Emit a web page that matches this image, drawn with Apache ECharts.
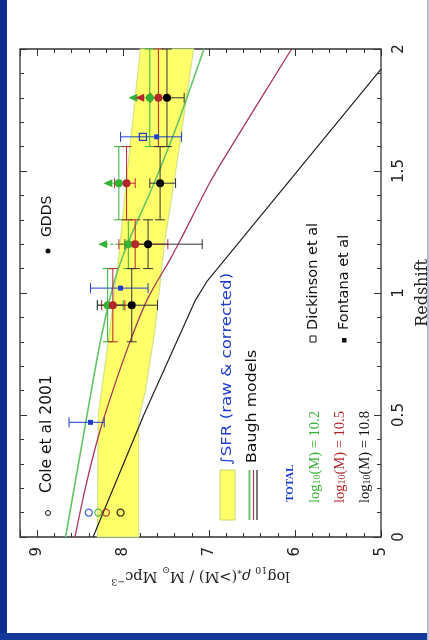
<!DOCTYPE html>
<html><head><meta charset="utf-8">
<script src="https://cdn.jsdelivr.net/npm/echarts@6/dist/echarts.min.js"></script>
<style>html,body{margin:0;padding:0;background:#fff;}#c{width:429px;height:640px;}</style>
</head><body><div id="c"></div>
<script>
// ---------- data ----------
const densityTicks = [5, 6, 7, 8, 9];
const redshiftTicks = [0, 0.5, 1, 1.5, 2];

// Baugh models (log10 rho, redshift)
const baughZ102 = [0, 0.3, 0.56, 0.81, 1.05, 1.2, 1.45, 1.7, 2.0];
const baughRho102 = [8.67, 8.52, 8.39, 8.26, 8.10, 7.95, 7.64, 7.36, 7.06];
const baughZ105 = [0, 0.2, 0.41, 0.6, 0.81, 0.98, 1.14, 1.22, 1.46, 1.59, 2.0];
const baughRho105 = [8.56, 8.44, 8.29, 8.12, 7.91, 7.71, 7.45, 7.33, 6.98, 6.76, 6.04];
const baughZ108 = [0, 0.5, 0.97, 1.05, 1.918];
const baughRho108 = [8.35, 7.76, 7.16, 7.02, 5.0];

// integrated SFR band
const sfrUpperZ = [0, 0.5, 0.81, 1.15, 1.5, 2.0];
const sfrUpper = [8.30, 8.29, 8.17, 8.05, 7.95, 7.80];
const sfrLowerZ = [0, 0.48, 0.6, 0.85, 1.2, 1.59, 2.0];
const sfrLower = [7.82, 7.82, 7.74, 7.63, 7.52, 7.35, 7.18];

// GDDS
const gddsZ = [0.95, 1.2, 1.45, 1.8];
const gddsZLow = [0.8, 1.1, 1.3, 1.6];
const gddsZHigh = [1.1, 1.3, 1.6, 2.0];
const gdds102 = [8.18, 7.94, 8.05, 7.69];
const gdds102Hi = [8.30, null, null, null];
const gdds102Lo = [8.00, null, null, null];
const gdds102Arrow = [null, 8.29, 8.23, 7.94];
const gdds105 = [8.12, 7.86, 7.96, 7.59];
const gdds105Hi = [8.25, 8.05, 8.10, null];
const gdds105Lo = [7.98, 7.48, 7.86, null];
const gdds105Arrow = [null, null, null, 7.86];
const gdds108 = [7.90, 7.71, 7.57, 7.49];
const gdds108Hi = [8.30, 7.98, 7.69, 7.68];
const gdds108Lo = [7.60, 7.08, 7.39, 7.29];

// Cole et al 2001 (z = 0.1): total, 10.2, 10.5, 10.8
const coleZ = [0.1, 0.1, 0.1, 0.1];
const coleRho = [8.40, 8.29, 8.20, 8.03];

// Fontana et al / Dickinson et al
const fontanaZ = [0.47, 1.02, 1.64];
const fontanaRho = [8.38, 8.03, 7.61];
const fontanaHi = [8.63, 8.38, 8.03];
const fontanaLo = [8.22, 7.71, 7.32];
const dickinsonZ = [1.64];
const dickinsonRho = [7.77];

// ---------- style ----------
const C_GREEN = '#34b234', C_RED = '#b3262a', C_BLACK = '#000', C_BLUE = '#1d3fcc';
const C_GLINE = '#62c462', C_RLINE = '#a8385a';
const SANS = '"DejaVu Sans", sans-serif';
const SERIF = '"Liberation Serif", "Times New Roman", serif';
const DSERIF = '"DejaVu Serif", serif';

const zip = (a, b) => a.map((v, i) => [v, b[i]]);

function errSeries(rho, hi, lo, zs, zlo, zhi, color) {
  return {
    type: 'custom', z: 3, silent: true,
    data: zip(rho, zs), encode: { x: 0, y: 1 },
    renderItem: (params, api) => {
      const i = params.dataIndex, ch = [], cap = 5;
      const st = { stroke: color, lineWidth: 1 };
      if (hi && hi[i] != null) {
        const a = api.coord([hi[i], zs[i]]), b = api.coord([lo[i], zs[i]]);
        ch.push({ type: 'line', shape: { x1: a[0], y1: a[1], x2: b[0], y2: b[1] }, style: st });
        ch.push({ type: 'line', shape: { x1: a[0], y1: a[1] - cap, x2: a[0], y2: a[1] + cap }, style: st });
        ch.push({ type: 'line', shape: { x1: b[0], y1: b[1] - cap, x2: b[0], y2: b[1] + cap }, style: st });
      }
      if (zlo && zlo[i] != null) {
        const a = api.coord([rho[i], zlo[i]]), b = api.coord([rho[i], zhi[i]]);
        ch.push({ type: 'line', shape: { x1: a[0], y1: a[1], x2: b[0], y2: b[1] }, style: st });
        ch.push({ type: 'line', shape: { x1: a[0] - cap, y1: a[1], x2: a[0] + cap, y2: a[1] }, style: st });
        ch.push({ type: 'line', shape: { x1: b[0] - cap, y1: b[1], x2: b[0] + cap, y2: b[1] }, style: st });
      }
      return { type: 'group', children: ch };
    }
  };
}

function arrowSeries(rho, arrow, zs, color) {
  return {
    type: 'custom', z: 4, silent: true,
    data: zip(rho, zs), encode: { x: 0, y: 1 },
    renderItem: (params, api) => {
      const i = params.dataIndex;
      if (arrow[i] == null) return { type: 'group', children: [] };
      const a = api.coord([rho[i], zs[i]]), b = api.coord([arrow[i], zs[i]]);
      const dx = b[0] - a[0], dy = b[1] - a[1], L = Math.hypot(dx, dy) || 1;
      const ux = dx / L, uy = dy / L, len = 9, w = 4;
      const bx = b[0] - ux * len, by = b[1] - uy * len;
      return { type: 'group', children: [
        { type: 'line', shape: { x1: a[0], y1: a[1], x2: bx, y2: by }, style: { stroke: color, lineWidth: 1, lineDash: [3, 2] } },
        { type: 'polygon', shape: { points: [[b[0], b[1]], [bx - uy * w, by + ux * w], [bx + uy * w, by - ux * w]] }, style: { fill: color } }
      ] };
    }
  };
}

function lineSeries(rho, zs, color, width, smooth) {
  return { type: 'line', data: zip(rho, zs), showSymbol: false, symbol: 'none', smooth: smooth, z: 2, silent: true,
    lineStyle: { color: color, width: width }, clip: true };
}

function scatter(rho, zs, symbol, size, fill, stroke, bw) {
  return { type: 'scatter', data: zip(rho, zs), symbol: symbol, symbolSize: size, z: 5, silent: true,
    itemStyle: { color: fill, borderColor: stroke, borderWidth: bw, opacity: 1 } };
}

function vtext(x, y, text, font, color, sx, rich) {
  const st = { text: text, font: font, fill: color, textAlign: 'left', textVerticalAlign: 'middle', align: 'left', verticalAlign: 'middle' };
  if (rich) st.rich = rich;
  return { type: 'text', x: x, y: y, rotation: Math.PI / 2, scaleX: sx || 1, z: 20, style: st };
}
const subRich = (color) => ({ s: { fontSize: 10, fontFamily: SERIF, verticalAlign: 'bottom', lineHeight: 12, fill: color } });

const axisTickCommon = { show: true, inside: true, lineStyle: { color: '#333', width: 1 } };

const option = {
  animation: false,
  backgroundColor: '#fff',
  grid: { left: 20, right: 48, top: 49, bottom: 103, show: true, borderColor: '#333', borderWidth: 1.3, outerBoundsMode: 'none', containLabel: false },
  xAxis: [
    { type: 'value', min: 5, max: 9.2, interval: 1, inverse: true, position: 'bottom',
      axisLine: { show: false }, splitLine: { show: false },
      axisTick: Object.assign({ length: 7 }, axisTickCommon),
      axisLabel: { rotate: 90, margin: 10, fontSize: 15, fontFamily: SANS, color: '#222',
        formatter: v => densityTicks.indexOf(Math.round(v * 100) / 100) >= 0 ? String(v) : '' },
      name: 'log{s|10} {r|ρ}{s|*}(>M) / M{s|⊙} Mpc{p|−3}', nameLocation: 'middle', nameGap: 20, nameRotate: 180,
      nameTextStyle: { fontFamily: DSERIF, fontSize: 14.5, color: '#222', lineHeight: 22,
        rich: { s: { fontSize: 9.5, fontFamily: DSERIF, verticalAlign: 'bottom', lineHeight: 11, color: '#222' },
                p: { fontSize: 9.5, fontFamily: DSERIF, verticalAlign: 'top', lineHeight: 11, color: '#222' },
                r: { fontSize: 14.5, fontFamily: DSERIF, fontStyle: 'italic', color: '#222' } } } },
    { type: 'value', min: 5, max: 9.2, interval: 0.2, inverse: true, position: 'bottom',
      axisLine: { show: false }, splitLine: { show: false }, axisLabel: { show: false },
      axisTick: Object.assign({ length: 4 }, axisTickCommon) },
    { type: 'value', min: 5, max: 9.2, interval: 1, inverse: true, position: 'top',
      axisLine: { show: false }, splitLine: { show: false }, axisLabel: { show: false },
      axisTick: Object.assign({ length: 7 }, axisTickCommon) },
    { type: 'value', min: 5, max: 9.2, interval: 0.2, inverse: true, position: 'top',
      axisLine: { show: false }, splitLine: { show: false }, axisLabel: { show: false },
      axisTick: Object.assign({ length: 4 }, axisTickCommon) }
  ],
  yAxis: [
    { type: 'value', min: 0, max: 2, interval: 0.5, position: 'right',
      axisLine: { show: false }, splitLine: { show: false },
      axisTick: Object.assign({ length: 7 }, axisTickCommon),
      minorTick: { show: true, splitNumber: 5, length: 4, lineStyle: { color: '#333', width: 1 } },
      axisLabel: { rotate: 90, margin: 11, fontSize: 15, fontFamily: SANS, color: '#222',
        formatter: v => redshiftTicks.indexOf(v) >= 0 ? String(v) : '' },
      name: 'Redshift', nameLocation: 'middle', nameGap: 32, nameRotate: 90,
      nameTextStyle: { fontFamily: DSERIF, fontSize: 16, color: '#222' } },
    { type: 'value', min: 0, max: 2, interval: 0.5, position: 'left',
      axisLine: { show: false }, splitLine: { show: false }, axisLabel: { show: false },
      axisTick: Object.assign({ length: 7 }, axisTickCommon),
      minorTick: { show: true, splitNumber: 5, length: 4, lineStyle: { color: '#333', width: 1 } } }
  ],
  series: [
    { type: 'custom', z: 1, silent: true, data: [[sfrUpper[0], sfrUpperZ[0]]], encode: { x: 0, y: 1 },
      renderItem: (params, api) => {
        const pts = [];
        sfrUpperZ.forEach((z, i) => pts.push(api.coord([sfrUpper[i], z])));
        for (let i = sfrLowerZ.length - 1; i >= 0; i--) pts.push(api.coord([sfrLower[i], sfrLowerZ[i]]));
        return { type: 'polygon', shape: { points: pts }, style: { fill: '#ffff6a', stroke: '#d2e486', lineWidth: 1.2 } };
      } },
    lineSeries(baughRho102, baughZ102, C_GLINE, 1.6, 0.3),
    lineSeries(baughRho105, baughZ105, C_RLINE, 1.3, 0.3),
    lineSeries(baughRho108, baughZ108, '#222', 1.2, false),
    errSeries(fontanaRho, fontanaHi, fontanaLo, fontanaZ, null, null, C_BLUE),
    errSeries(gdds102, gdds102Hi, gdds102Lo, gddsZ, gddsZLow, gddsZHigh, C_GREEN),
    errSeries(gdds105, gdds105Hi, gdds105Lo, gddsZ, gddsZLow, gddsZHigh, C_RED),
    errSeries(gdds108, gdds108Hi, gdds108Lo, gddsZ, gddsZLow, gddsZHigh, '#333'),
    arrowSeries(gdds102, gdds102Arrow, gddsZ, C_GREEN),
    arrowSeries(gdds105, gdds105Arrow, gddsZ, C_RED),
    scatter(gdds102, gddsZ, 'circle', 8, C_GREEN, C_GREEN, 0),
    scatter(gdds105, gddsZ, 'circle', 8, C_RED, C_RED, 0),
    scatter(gdds108, gddsZ, 'circle', 8, C_BLACK, C_BLACK, 0),
    { type: 'scatter', z: 5, silent: true, symbol: 'circle', symbolSize: 7,
      data: coleRho.map((v, i) => ({ value: [v, coleZ[i]], itemStyle: { color: 'rgba(0,0,0,0)', borderWidth: 1.3,
        borderColor: [C_BLUE, C_GREEN, C_RED, C_BLACK][i] } })) },
    scatter(fontanaRho, fontanaZ, 'rect', 5, C_BLUE, C_BLUE, 0),
    scatter(dickinsonRho, dickinsonZ, 'rect', 7, 'rgba(0,0,0,0)', C_BLUE, 1.2)
  ],
  graphic: { elements: [
    { type: 'rect', shape: { x: 0, y: 0, width: 7, height: 640 }, style: { fill: '#0d2d8e' }, z: 30 },
    { type: 'rect', shape: { x: 0, y: 633, width: 429, height: 7 }, style: { fill: '#14389a' }, z: 30 },
    { type: 'rect', shape: { x: 427, y: 0, width: 2, height: 640 }, style: { fill: '#b4bfe2' }, z: 30 },
    // legend symbols
    { type: 'circle', shape: { cx: 48, cy: 513, r: 2.5 }, style: { fill: 'none', stroke: '#111', lineWidth: 1 }, z: 20 },
    { type: 'circle', shape: { cx: 48, cy: 251, r: 2.5 }, style: { fill: '#111' }, z: 20 },
    { type: 'rect', shape: { x: 220, y: 470, width: 15, height: 50 }, style: { fill: '#ffff6a', stroke: '#c8d870', lineWidth: 1 }, z: 20 },
    { type: 'line', shape: { x1: 249.5, y1: 470, x2: 249.5, y2: 520 }, style: { stroke: C_GLINE, lineWidth: 2 }, z: 20 },
    { type: 'line', shape: { x1: 253.5, y1: 470, x2: 253.5, y2: 520 }, style: { stroke: C_RLINE, lineWidth: 1.2 }, z: 20 },
    { type: 'line', shape: { x1: 257, y1: 470, x2: 257, y2: 520 }, style: { stroke: '#222', lineWidth: 1.2 }, z: 20 },
    { type: 'rect', shape: { x: 310, y: 336, width: 6, height: 6 }, style: { fill: 'none', stroke: '#111', lineWidth: 1 }, z: 20 },
    { type: 'rect', shape: { x: 342, y: 338, width: 4.5, height: 4.5 }, style: { fill: '#111' }, z: 20 },
    // texts
    vtext(47, 493, 'Cole et al 2001', '15.5px ' + SANS, '#111', 1),
    vtext(47, 237, 'GDDS', '14px ' + SANS, '#111', 1),
    vtext(227, 465, '∫SFR (raw & corrected)', '14px ' + SANS, C_BLUE, 1.19),
    vtext(252, 463, 'Baugh models', '14px ' + SANS, '#111', 1.13),
    vtext(290, 502, 'TOTAL', 'bold 11px ' + SERIF, C_BLUE, 1),
    vtext(315, 503, 'log{s|10}(M) = 10.2', '14.5px ' + SERIF, C_GREEN, 1, subRich(C_GREEN)),
    vtext(340, 503, 'log{s|10}(M) = 10.5', '14.5px ' + SERIF, C_RED, 1, subRich(C_RED)),
    vtext(365, 503, 'log{s|10}(M) = 10.8', '14.5px ' + SERIF, '#111', 1, subRich('#111')),
    vtext(313, 330, 'Dickinson et al', '14.5px ' + SANS, '#111', 1),
    vtext(344, 330, 'Fontana et al', '14.5px ' + SANS, '#111', 1)
  ] }
};
const chart = echarts.init(document.getElementById('c'), null, { renderer: 'canvas' });
chart.setOption(option);
</script></body></html>
